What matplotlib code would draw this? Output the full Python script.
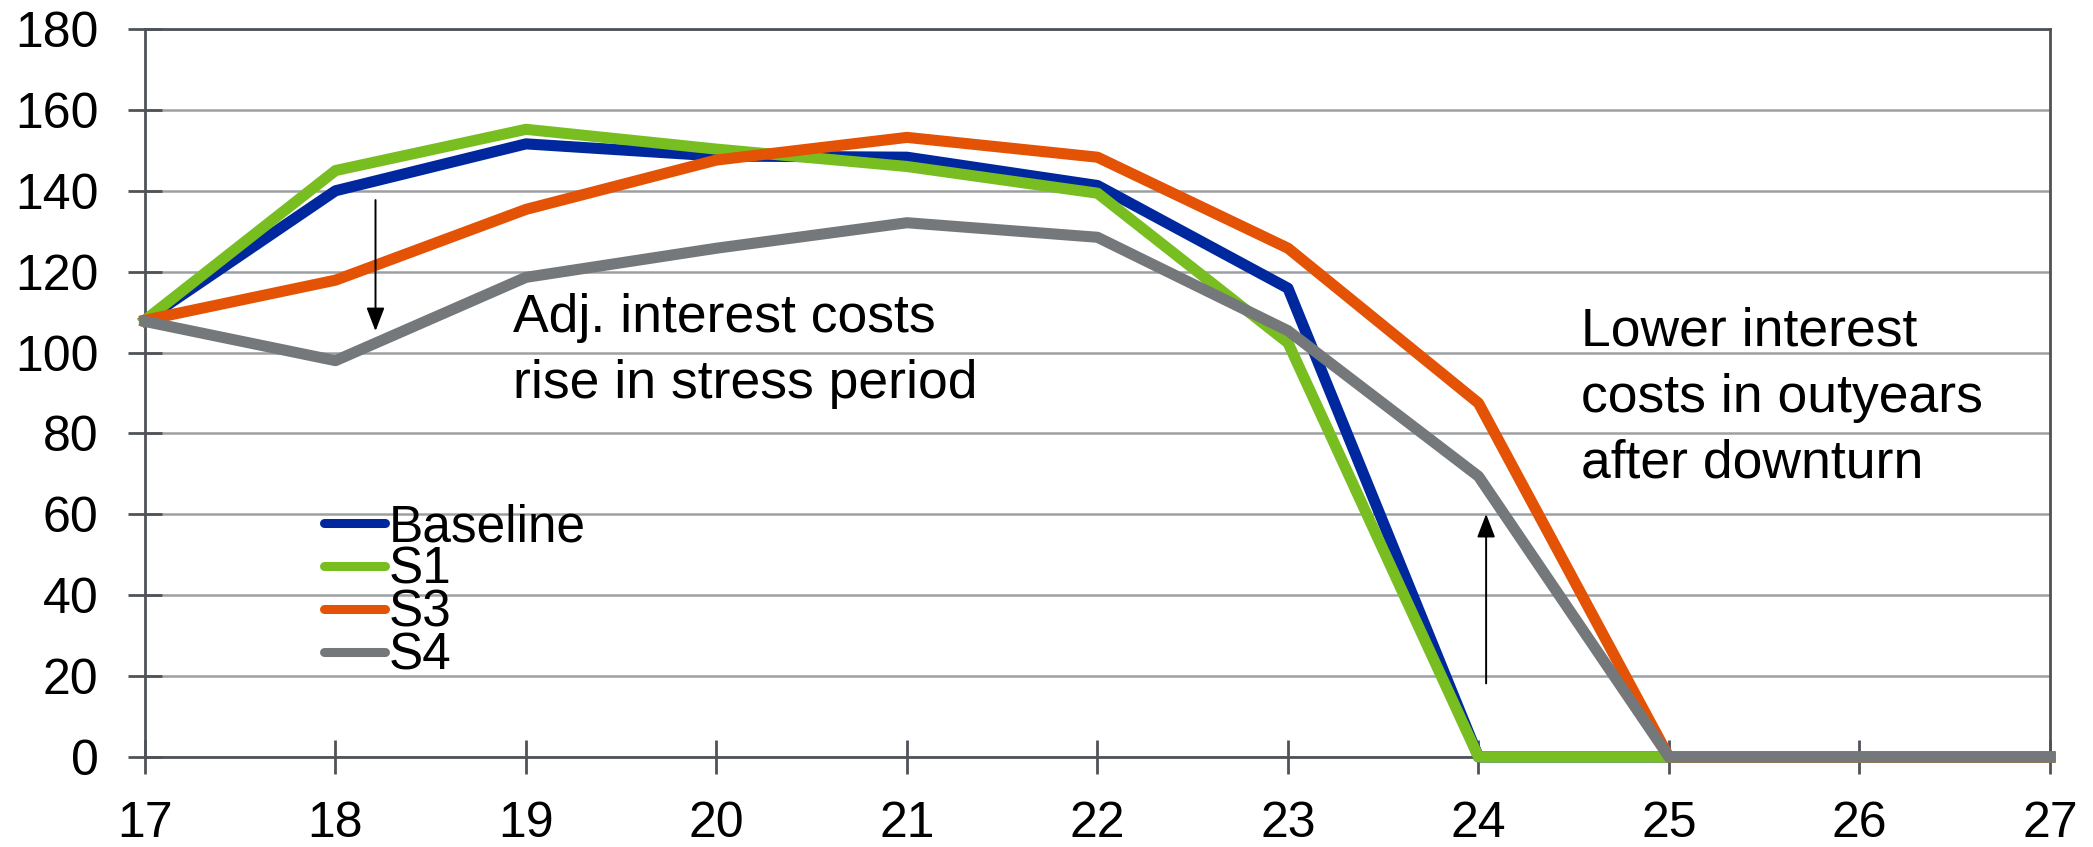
import numpy as np
import matplotlib
matplotlib.use("Agg")
import matplotlib.pyplot as plt

plt.rcParams['font.family'] = ['Liberation Sans', 'DejaVu Sans']

# years (20xx, shown as 17..27)
years = [17, 18, 19, 20, 21, 22, 23, 24, 25, 26, 27]

baseline = [108, 140, 151.6, 148.6, 148.3, 141.3, 115.9, 0, 0, 0, 0]
s1 = [108, 145, 155.2, 150.3, 146, 139.4, 102.4, 0, 0, 0, 0]
s3 = [108, 117.9, 135.4, 147.6, 153.2, 148.3, 125.8, 87.5, 0, 0, 0]
s4 = [107.7, 98, 118.6, 125.8, 132.1, 128.5, 105.4, 69.4, 0, 0, 0]

series_names = ["Baseline", "S1", "S3", "S4"]
series_colors = ["#00289E", "#78BE20", "#E35205", "#75787B"]

fig = plt.figure(figsize=(20.93, 8.47), dpi=100)
ax = fig.add_axes([145 / 2093, 1 - 757 / 847, (2050 - 145) / 2093, (757 - 29) / 847])

for vals, name, col in zip([baseline, s1, s3, s4], series_names, series_colors):
    ax.plot(years, vals, color=col, lw=8, label=name, clip_on=False, zorder=3)

ax.set_xlim(17, 27)
ax.set_ylim(0, 180)
ax.set_xticks(np.arange(17, 28, 1))
ax.set_yticks(np.arange(0, 181, 20))

ax.yaxis.grid(True, color="#9DA0A3", lw=1.8)
ax.set_axisbelow(True)

spine_col = "#4F5357"
for sp in ax.spines.values():
    sp.set_color(spine_col)
    sp.set_linewidth(2)
    sp.set_zorder(2)

ax.tick_params(axis="both", direction="inout", length=25, width=2,
               color=spine_col, labelsize=36, pad=21, labelcolor="black")
ax.tick_params(axis="x", pad=19)

# annotations (y = baseline of the last line)
ax.text(18.93, 88.8, "Adj. interest costs\nrise in stress period", fontsize=38.5,
        va="baseline", ha="left", linespacing=1.4)
ax.text(24.54, 69.2, "Lower interest\ncosts in outyears\nafter downturn", fontsize=38.5,
        va="baseline", ha="left", linespacing=1.4)

arrow_props = dict(arrowstyle="-|>,head_length=0.65,head_width=0.25",
                   color="black", lw=1.4, mutation_scale=22, shrinkA=0, shrinkB=0)
ax.annotate("", xy=(18.21, 105.3), xytext=(18.21, 137.7), arrowprops=arrow_props)
ax.annotate("", xy=(24.04, 60.1), xytext=(24.04, 18.2), arrowprops=arrow_props)

leg = ax.legend(loc="upper left", bbox_to_anchor=(324 / 2093, 1 - 503 / 847),
                bbox_transform=fig.transFigure, frameon=False, fontsize=37,
                handlelength=1.18, handletextpad=0.08, labelspacing=-0.12,
                borderpad=0, borderaxespad=0)
for line in leg.get_lines():
    line.set_linewidth(6.5)
    line.set_solid_capstyle("round")

fig.savefig("out.png", dpi=100)
